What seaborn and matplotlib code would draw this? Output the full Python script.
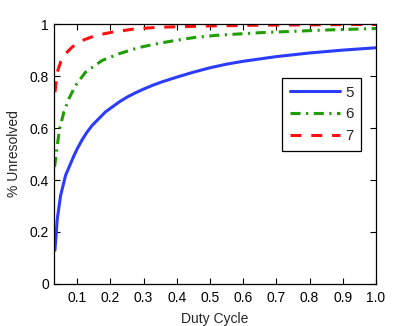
"""Fraction of unresolved cases vs duty cycle, for three settings (5, 6, 7)."""

import pandas as pd
import seaborn as sns
import matplotlib.pyplot as plt

# values
duty_5 = [0.033, 0.04, 0.05, 0.065, 0.079, 0.089, 0.10, 0.115, 0.13, 0.145, 0.185, 0.226,
          0.25, 0.276, 0.30, 0.326, 0.356, 0.40, 0.45, 0.50, 0.55, 0.60, 0.65, 0.70, 0.80,
          0.90, 1.0]
unres_5 = [0.13, 0.25, 0.34, 0.418, 0.46, 0.49, 0.52, 0.555, 0.585, 0.61, 0.662, 0.70,
           0.719, 0.736, 0.75, 0.764, 0.778, 0.796, 0.815, 0.832, 0.846, 0.857, 0.866, 0.875,
           0.889, 0.90, 0.909]

duty_6 = [0.032, 0.035, 0.04, 0.047, 0.06, 0.075, 0.095, 0.125, 0.175, 0.226, 0.286, 0.346,
          0.39, 0.45, 0.52, 0.65, 0.84, 1.0]
unres_6 = [0.45, 0.482, 0.533, 0.597, 0.662, 0.713, 0.764, 0.815, 0.86, 0.886, 0.91, 0.926,
           0.936, 0.948, 0.957, 0.967, 0.977, 0.983]

duty_7 = [0.033, 0.04, 0.05, 0.065, 0.085, 0.115, 0.155, 0.205, 0.276, 0.346, 0.50, 0.65, 1.0]
unres_7 = [0.738, 0.815, 0.854, 0.886, 0.912, 0.937, 0.956, 0.969, 0.982, 0.988, 0.993,
           0.996, 0.999]

series_names = ["5", "6", "7"]
colors = {"5": "#2b3cff", "6": "#1f9e00", "7": "#ff1010"}
dashes = {"5": "", "6": (3.3, 1.8, 0.7, 1.8), "7": (3.6, 3.2)}

x_ticks = [0.1, 0.2, 0.3, 0.4, 0.5, 0.6, 0.7, 0.8, 0.9, 1.0]
x_tick_labels = ["0.1", "0.2", "0.3", "0.4", "0.5", "0.6", "0.7", "0.8", "0.9", "1.0"]
y_ticks = [0, 0.2, 0.4, 0.6, 0.8, 1]
y_tick_labels = ["0", "0.2", "0.4", "0.6", "0.8", "1"]


def build_frame() -> pd.DataFrame:
    parts = []
    for name, xs, ys in zip(series_names, [duty_5, duty_6, duty_7], [unres_5, unres_6, unres_7]):
        parts.append(pd.DataFrame({"duty": xs, "unresolved": ys, "series": name}))
    return pd.concat(parts, ignore_index=True)


def main() -> None:
    sns.set_style("ticks")
    plt.rcParams["font.family"] = ["Liberation Sans", "DejaVu Sans"]
    plt.rcParams["xtick.direction"] = "in"
    plt.rcParams["ytick.direction"] = "in"

    df = build_frame()

    fig = plt.figure(figsize=(4.15, 3.26), dpi=100)
    ax = fig.add_axes([0.130, 0.129, 0.776, 0.797])
    sns.lineplot(data=df, x="duty", y="unresolved", hue="series", style="series",
                 hue_order=series_names, style_order=series_names,
                 palette=colors, dashes=dashes, linewidth=2.2, sort=False,
                 estimator=None, ax=ax)

    ax.set_xlim(0.03, 1.0)
    ax.set_ylim(0, 1)
    ax.set_xticks(x_ticks, x_tick_labels)
    ax.set_yticks(y_ticks, y_tick_labels)
    ax.tick_params(top=True, right=True, labelsize=10, length=4, width=0.8, colors="black")
    ax.tick_params(axis="x", pad=5)
    for spine in ax.spines.values():
        spine.set_visible(True)
        spine.set_linewidth(0.9)
        spine.set_color("black")
    ax.set_xlabel("Duty Cycle", fontsize=10, labelpad=5)
    ax.set_ylabel("% Unresolved", fontsize=10, labelpad=6)

    leg = ax.legend(loc="upper left", bbox_to_anchor=(0.708, 0.792), borderaxespad=0,
                    fancybox=False, edgecolor="black", fontsize=11, handlelength=3.3,
                    labelspacing=0.5, borderpad=0.5, handletextpad=0.35, framealpha=1)
    leg.get_frame().set_linewidth(0.9)

    fig.savefig("out.png", dpi=100)


if __name__ == "__main__":
    main()
